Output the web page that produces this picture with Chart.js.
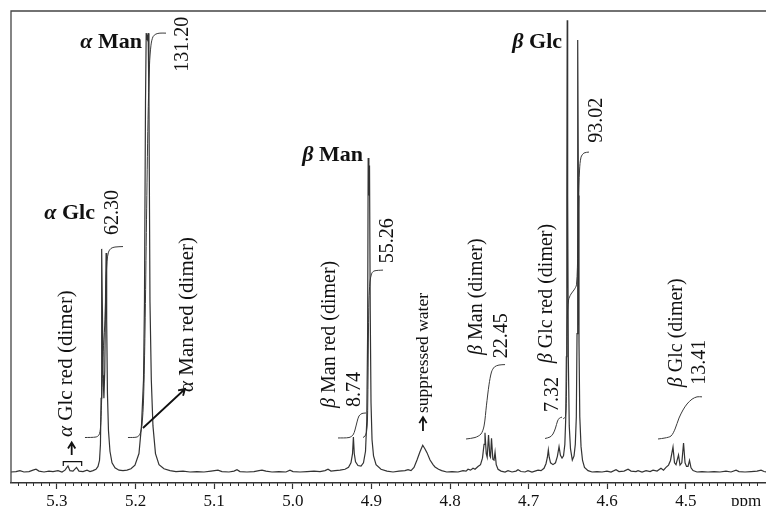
<!DOCTYPE html>
<html>
<head>
<meta charset="utf-8">
<script src="https://cdn.jsdelivr.net/npm/chart.js@4.4.1/dist/chart.umd.min.js"></script>
<style>
  html, body { margin: 0; padding: 0; background: #fff; }
  #wrap { width: 766px; height: 506px; position: relative; }
</style>
</head>
<body>
<div id="wrap"><canvas id="nmrChart"></canvas></div>
<script>
// [chemical shift (ppm), intensity], high to low ppm
const spectrum = [
  [5.3585,0.0],[5.3522,0.1],[5.3471,0.3],[5.3420,0.0],[5.3356,0.1],[5.3305,0.4],[5.3267,0.6],[5.3229,0.2],
  [5.3165,0.0],[5.3102,0.2],[5.3051,0.1],[5.2987,0.3],[5.2936,0.0],[5.2898,0.4],[5.2860,1.3],[5.2835,0.3],
  [5.2796,0.2],[5.2752,1.0],[5.2720,0.2],[5.2669,0.1],[5.2618,0.4],[5.2580,0.1],[5.2542,0.3],
  // alpha Glc
  [5.2504,0.6],[5.2478,1.2],[5.2459,2.5],[5.2447,6],[5.2439,16],[5.2434,35],[5.2429,48.4],[5.2422,35],
  [5.2414,21],[5.2403,16],[5.2392,22],[5.2382,38],[5.2375,47.5],[5.2368,33],[5.2358,17],[5.2345,9],
  [5.2326,4.5],[5.2300,2],[5.2262,0.9],[5.2211,0.4],[5.2160,0.3],[5.2109,0.4],
  // alpha Man
  [5.2059,0.7],[5.2008,1.5],[5.1957,4],[5.1925,10],[5.1899,20],[5.1887,37],[5.1874,80],[5.1865,95.2],
  [5.1852,94],[5.1840,95.2],[5.1830,80],[5.1817,37],[5.1800,20],[5.1779,10],[5.1747,4],[5.1702,1.6],
  [5.1639,0.7],[5.1562,0.3],
  [5.1486,0.1],[5.1397,0.2],[5.1308,0.0],[5.1219,0.1],[5.1130,0.0],[5.1041,0.2],[5.0952,0.4],[5.0901,0.1],
  [5.0812,0.0],[5.0748,0.2],[5.0710,0.5],[5.0672,0.1],[5.0583,0.0],[5.0494,0.1],[5.0430,0.3],[5.0392,0.4],
  [5.0341,0.2],[5.0265,0.0],[5.0176,0.1],[5.0087,0.0],[5.0036,0.4],[4.9997,0.1],[4.9908,0.0],[4.9819,0.1],
  [4.9730,0.2],[4.9654,0.1],[4.9590,0.3],[4.9552,0.6],[4.9514,0.2],[4.9463,0.3],
  // beta Man red (dimer) + beta Man
  [4.9399,0.4],[4.9336,0.6],[4.9291,1],[4.9260,2],[4.9240,4],[4.9229,7.6],[4.9218,4],[4.9202,2.2],
  [4.9171,1.4],[4.9132,1.3],[4.9101,2],[4.9075,4.5],[4.9059,11],[4.9048,30],[4.9041,68.1],[4.9032,60],
  [4.9024,66.5],[4.9015,35],[4.9005,15],[4.8992,7],[4.8973,3.5],[4.8941,1.6],[4.8878,0.6],[4.8802,0.2],
  [4.8725,0.0],[4.8649,0.2],[4.8573,0.3],[4.8534,0.5],[4.8496,0.3],
  // suppressed water
  [4.8458,1.0],[4.8420,2.6],[4.8382,4.4],[4.8347,5.8],[4.8318,5.0],[4.8293,4.2],[4.8254,2.6],[4.8216,1.6],
  [4.8191,1.1],[4.8146,0.6],[4.8106,0.3],[4.8042,0.0],[4.7975,0.1],[4.7898,0.0],[4.7835,0.3],[4.7796,0.2],
  [4.7771,0.6],[4.7739,0.4],[4.7707,0.8],[4.7682,0.6],[4.7644,1.2],[4.7612,1.6],
  // beta Man (dimer)
  [4.7587,3],[4.7567,6],[4.7555,8.5],[4.7539,4],[4.7527,3.2],[4.7510,8.0],[4.7494,3.5],[4.7485,3.2],
  [4.7472,7.3],[4.7455,2.8],[4.7440,2.6],[4.7427,4.3],[4.7412,1.6],[4.7389,0.6],[4.7351,0.2],[4.7300,0.0],
  [4.7262,0.3],[4.7211,0.0],[4.7160,0.2],[4.7135,0.5],[4.7097,0.1],[4.7046,0.0],[4.7008,0.3],[4.6957,0.0],
  [4.6919,0.2],[4.6880,0.4],[4.6842,0.3],
  // beta Glc red (dimer)
  [4.6804,0.8],[4.6779,1.8],[4.6761,3.2],[4.6749,4.8],[4.6738,3.2],[4.6721,2.0],[4.6690,1.6],[4.6658,2],
  [4.6634,3.4],[4.6613,5.5],[4.6595,3.6],[4.6575,3.0],
  // beta Glc
  [4.6556,3.5],[4.6539,6],[4.6527,12],[4.6520,25],[4.6514,60],[4.6509,98],[4.6503,60],[4.6495,25],
  [4.6483,10],[4.6467,5],[4.6444,2.6],[4.6422,3.5],[4.6406,6],[4.6393,12],[4.6384,30],[4.6378,60],
  [4.6373,93.7],[4.6366,60],[4.6359,28],[4.6349,12],[4.6333,5.5],[4.6314,2.5],[4.6289,1],[4.6244,0.3],
  [4.6193,0.0],[4.6130,0.1],[4.6066,0.0],[4.6003,0.2],[4.5952,0.0],[4.5888,0.5],[4.5850,0.1],[4.5786,0.2],
  [4.5735,0.6],[4.5697,0.2],[4.5634,0.1],[4.5608,0.3],[4.5557,0.0],[4.5506,0.3],[4.5455,0.1],[4.5417,0.4],
  [4.5366,0.2],[4.5316,0.8],[4.5284,0.4],[4.5252,1.0],
  // beta Glc (dimer)
  [4.5220,1.5],[4.5195,2.5],[4.5163,5.4],[4.5144,2.0],[4.5125,1.6],[4.5093,3.7],[4.5074,1.5],[4.5051,2.0],
  [4.5029,6.3],[4.5010,2.0],[4.4991,1.2],[4.4972,1.2],[4.4953,2.5],[4.4934,0.9],[4.4908,0.3],[4.4858,0.0],
  [4.4794,0.1],[4.4718,0.0],[4.4641,0.1],[4.4565,0.0],[4.4489,0.2],[4.4425,0.0],[4.4361,0.4],[4.4323,0.1],
  [4.4247,0.0],[4.4170,0.1],[4.4094,0.2],[4.4043,0.4],[4.4005,0.1],[4.3967,0.0]
];

// integral traces [ppm, level]
const intAlphaGlc = [[5.2644,7.48],[5.2504,7.59],[5.2466,8.03],[5.2447,9.54],[5.2434,14.5],[5.2421,22.1],
  [5.2408,27.5],[5.2389,33.0],[5.2377,40.6],[5.2364,45.6],[5.2345,47.7],[5.2313,48.5],[5.2262,48.8],[5.2160,48.9]];
const intAlphaMan = [[5.2097,7.48],[5.1982,7.59],[5.1944,8.24],[5.1919,10.2],[5.1899,15.6],[5.1880,30.8],
  [5.1861,54.7],[5.1842,76.4],[5.1823,88.3],[5.1804,92.6],[5.1779,94.4],[5.1741,95.0],[5.1690,95.2],[5.1613,95.2]];
const intBetaManRed = [[4.9425,7.38],[4.9285,7.48],[4.9234,8.03],[4.9209,9.11],[4.9183,10.85],[4.9158,12.15],
  [4.9120,12.69],[4.9069,12.8]];
const intBetaMan = [[4.9107,7.48],[4.9081,7.81],[4.9062,8.68],[4.9050,11.28],[4.9043,19.96],[4.9037,30.8],
  [4.9031,37.3],[4.9018,41.2],[4.8999,42.95],[4.8967,43.6],[4.8852,43.8]];
const intBetaManDimer = [[4.7796,7.16],[4.7682,7.48],[4.7606,8.24],[4.7567,9.98],[4.7536,14.5],[4.7504,18.9],
  [4.7472,21.7],[4.7434,22.8],[4.7377,23.2],[4.7300,23.3]];
const intBetaGlcRed = [[4.6791,7.27],[4.6728,7.59],[4.6690,8.24],[4.6658,9.54],[4.6632,11.06],[4.6607,11.7],
  [4.6575,11.9]];
const intBetaGlc = [[4.6562,11.5],[4.6531,12.04],[4.6518,17.8],[4.6508,33.0],[4.6492,37.3],[4.6461,38.6],
  [4.6422,39.5],[4.6391,40.6],[4.6374,48.2],[4.6363,59.0],[4.6352,65.5],[4.6333,68.3],[4.6295,69.2],[4.6232,69.4]];
const intBetaGlcDimer = [[4.5354,7.16],[4.5265,7.38],[4.5188,7.81],[4.5137,9.33],[4.5087,11.7],[4.5036,13.45],
  [4.4985,14.75],[4.4921,15.8],[4.4858,16.3],[4.4794,16.3]];

const tickValues = [5.3, 5.2, 5.1, 5.0, 4.9, 4.8, 4.7, 4.6, 4.5];
const tickLabels = ['5.3', '5.2', '5.1', '5.0', '4.9', '4.8', '4.7', '4.6', '4.5'];
const unitLabel = 'ppm';
const unitPos = 4.4234;

// bold assignment labels, right edge at ppm
const peakNames = [
  { greek: 'α', text: ' Glc', ppm: 5.2517, val: 56.2 },
  { greek: 'α', text: ' Man', ppm: 5.1919, val: 93.1 },
  { greek: 'β', text: ' Man', ppm: 4.9107, val: 68.8 },
  { greek: 'β', text: ' Glc', ppm: 4.6575, val: 93.1 }
];
// vertical labels, text starts at (ppm, val) and reads upward
const sideNotes = [
  { greek: 'α', text: ' Glc red (dimer)', ppm: 5.2873, val: 7.59, size: 21 },
  { text: '62.30', ppm: 5.2288, val: 51.4 },
  { greek: 'α', text: ' Man red (dimer)', ppm: 5.1346, val: 17.35, size: 21 },
  { text: '131.20', ppm: 5.1397, val: 86.8 },
  { greek: 'β', text: ' Man red (dimer)', ppm: 4.9527, val: 13.9 },
  { text: '8.74', ppm: 4.9209, val: 14.1 },
  { text: '55.26', ppm: 4.8789, val: 45.3 },
  { text: 'suppressed water', ppm: 4.8344, val: 12.8, size: 17.5 },
  { greek: 'β', text: ' Man (dimer)', ppm: 4.7656, val: 25.4 },
  { text: '22.45', ppm: 4.7338, val: 24.7 },
  { greek: 'β', text: ' Glc red (dimer)', ppm: 4.6766, val: 23.6 },
  { text: '7.32', ppm: 4.6690, val: 13.0 },
  { text: '93.02', ppm: 4.6130, val: 71.4 },
  { greek: 'β', text: ' Glc (dimer)', ppm: 4.5112, val: 18.4 },
  { text: '13.41', ppm: 4.4819, val: 18.9 }
];
const arrows = [
  { from: [5.1906, 9.54], to: [5.1372, 18.0] },
  { from: [4.8344, 8.9], to: [4.8344, 11.9] },
  { from: [5.2813, 3.69], to: [5.2813, 6.4] }
];
const bracket = { from: 5.292, to: 5.2686, val: 2.23, foot: 1.3 };

const serif = '"Liberation Serif", "DejaVu Serif", serif';

function drawParts(ctx, parts, x, y) {
  let cx = x;
  parts.forEach(p => {
    ctx.font = p.font;
    ctx.fillText(p.t, cx, y);
    cx += ctx.measureText(p.t).width;
  });
}
function partsWidth(ctx, parts) {
  let w = 0;
  parts.forEach(p => { ctx.font = p.font; w += ctx.measureText(p.t).width; });
  return w;
}
function drawArrow(ctx, x1, y1, x2, y2) {
  const ang = Math.atan2(y2 - y1, x2 - x1), h = 7;
  ctx.beginPath();
  ctx.moveTo(x1, y1);
  ctx.lineTo(x2, y2);
  ctx.moveTo(x2 - h * Math.cos(ang - 0.55), y2 - h * Math.sin(ang - 0.55));
  ctx.lineTo(x2, y2);
  ctx.lineTo(x2 - h * Math.cos(ang + 0.55), y2 - h * Math.sin(ang + 0.55));
  ctx.stroke();
}

const nmrDecor = {
  id: 'nmrDecor',
  afterDraw(chart) {
    const { ctx, chartArea: a, scales: { x, y } } = chart;
    ctx.save();

    // frame (left and top)
    ctx.strokeStyle = '#444';
    ctx.lineWidth = 1.3;
    ctx.beginPath();
    ctx.moveTo(a.left, a.bottom);
    ctx.lineTo(a.left, a.top);
    ctx.lineTo(a.right + 2, a.top);
    ctx.stroke();

    // minor ticks every 0.01 ppm
    ctx.strokeStyle = '#333';
    ctx.lineWidth = 1;
    ctx.beginPath();
    for (let i = 440; i <= 535; i++) {
      if (i % 10 === 0) continue;
      const px = Math.round(x.getPixelForValue(i / 100)) + 0.5;
      ctx.moveTo(px, a.bottom);
      ctx.lineTo(px, a.bottom + 3);
    }
    ctx.stroke();

    ctx.fillStyle = '#111';

    // bold names
    ctx.textBaseline = 'middle';
    ctx.textAlign = 'left';
    peakNames.forEach(n => {
      const parts = [
        { t: n.greek, font: 'italic bold 22px ' + serif },
        { t: n.text, font: 'bold 22px ' + serif }
      ];
      const w = partsWidth(ctx, parts);
      drawParts(ctx, parts, x.getPixelForValue(n.ppm) - w, y.getPixelForValue(n.val));
    });

    // vertical notes
    sideNotes.forEach(n => {
      const size = n.size || 20;
      const parts = [];
      if (n.greek) parts.push({ t: n.greek, font: 'italic ' + size + 'px ' + serif });
      parts.push({ t: n.text, font: size + 'px ' + serif });
      ctx.save();
      ctx.translate(x.getPixelForValue(n.ppm), y.getPixelForValue(n.val));
      ctx.rotate(-Math.PI / 2);
      drawParts(ctx, parts, 0, 0);
      ctx.restore();
    });

    // arrows
    ctx.strokeStyle = '#111';
    ctx.lineWidth = 1.8;
    arrows.forEach(ar => {
      drawArrow(ctx,
        x.getPixelForValue(ar.from[0]), y.getPixelForValue(ar.from[1]),
        x.getPixelForValue(ar.to[0]), y.getPixelForValue(ar.to[1]));
    });

    // bracket over the alpha Glc red (dimer) signals
    ctx.lineWidth = 1.2;
    const bx1 = x.getPixelForValue(bracket.from), bx2 = x.getPixelForValue(bracket.to);
    const by = y.getPixelForValue(bracket.val), bf = y.getPixelForValue(bracket.foot);
    ctx.beginPath();
    ctx.moveTo(bx1, bf);
    ctx.lineTo(bx1, by);
    ctx.lineTo(bx2, by);
    ctx.lineTo(bx2, bf);
    ctx.stroke();

    ctx.restore();
  }
};

const toXY = arr => arr.map(p => ({ x: p[0], y: p[1] }));
const integralSet = arr => ({
  data: toXY(arr),
  borderColor: '#3a3a3a',
  borderWidth: 1,
  pointRadius: 0,
  tension: 0.3
});

const ctx = document.getElementById('nmrChart').getContext('2d');
const chart = new Chart(ctx, {
  type: 'line',
  data: {
    datasets: [
      {
        label: 'spectrum',
        data: toXY(spectrum),
        borderColor: '#333',
        borderWidth: 1.2,
        pointRadius: 0,
        tension: 0
      },
      integralSet(intAlphaGlc),
      integralSet(intAlphaMan),
      integralSet(intBetaManRed),
      integralSet(intBetaMan),
      integralSet(intBetaManDimer),
      integralSet(intBetaGlcRed),
      integralSet(intBetaGlc),
      integralSet(intBetaGlcDimer)
    ]
  },
  options: {
    responsive: true,
    maintainAspectRatio: false,
    animation: false,
    layout: { padding: { left: 11, top: 11, right: 0, bottom: 0 } },
    plugins: {
      legend: { display: false },
      tooltip: { enabled: false }
    },
    scales: {
      x: {
        type: 'linear',
        reverse: true,
        min: 4.398,
        max: 5.3585,
        afterBuildTicks: scale => {
          scale.ticks = tickValues.concat([unitPos]).map(v => ({ value: v }));
        },
        afterFit: scale => { scale.height = 23; },
        grid: {
          display: true,
          drawOnChartArea: false,
          drawTicks: true,
          tickLength: 6,
          tickWidth: 1.2,
          tickColor: c => (c.tick && c.tick.value === unitPos) ? 'rgba(0,0,0,0)' : '#333'
        },
        border: { display: true, color: '#333', width: 1.5 },
        ticks: {
          autoSkip: false,
          maxRotation: 0,
          padding: 2,
          color: '#111',
          font: { family: serif, size: 17 },
          callback: (value, index) => tickLabels.concat([unitLabel])[index]
        }
      },
      y: {
        display: false,
        min: -2.386,
        max: 100
      }
    }
  },
  plugins: [nmrDecor]
});
</script>
</body>
</html>
